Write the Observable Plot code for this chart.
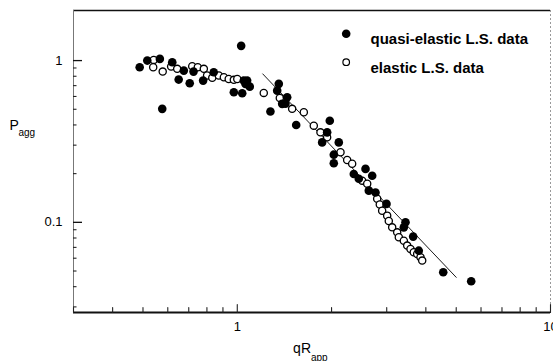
<!DOCTYPE html>
<html>
<head>
<meta charset="utf-8">
<script src="https://cdn.jsdelivr.net/npm/d3@7"></script>
<script src="https://cdn.jsdelivr.net/npm/@observablehq/plot@0.6"></script>
<style>
  body { margin: 0; background: #fff; }
  #chart { width: 553px; height: 361px; overflow: hidden; }
</style>
</head>
<body>
<div id="chart"></div>
<script>
// Quasi-elastic light-scattering data (filled circles)
const quasiQ = [0.488, 0.516, 0.566, 0.576, 0.620, 0.650, 0.675, 0.705, 0.725, 0.778,
  0.841, 0.975, 1.029, 1.037, 1.049, 1.075, 1.096, 1.062, 1.276, 1.357,
  1.341, 1.391, 1.443, 1.542, 1.425, 1.974, 1.936, 1.866, 2.109, 2.033,
  2.033, 2.355, 2.567, 2.443, 2.696, 2.630, 2.763, 2.995, 3.444, 3.402,
  3.644, 3.797, 4.545, 5.582];
const quasiP = [0.909, 1.000, 1.024, 0.503, 0.976, 0.763, 0.867, 0.724, 0.855, 0.752,
  0.847, 0.637, 1.233, 0.628, 0.752, 0.752, 0.690, 0.718, 0.484, 0.718,
  0.652, 0.540, 0.593, 0.400, 0.542, 0.425, 0.360, 0.312, 0.312, 0.262,
  0.232, 0.199, 0.214, 0.186, 0.194, 0.157, 0.153, 0.130, 0.100, 0.0931,
  0.0816, 0.0668, 0.0491, 0.0432];

// Elastic light-scattering data (open circles)
const elasticQ = [0.541, 0.539, 0.578, 0.615, 0.643, 0.718, 0.748, 0.782, 0.801, 0.832,
  0.873, 0.906, 0.939, 0.975, 1.000, 1.215, 1.367, 1.497, 1.631, 1.755,
  1.843, 1.936, 2.136, 2.243, 2.327, 2.505, 2.599, 2.797, 2.851, 2.901,
  3.010, 3.046, 3.123, 3.240, 3.279, 3.402, 3.487, 3.573, 3.660, 3.753,
  3.846, 3.894];
const elasticP = [1.010, 0.909, 0.855, 0.918, 0.889, 0.922, 0.909, 0.889, 0.808, 0.782,
  0.808, 0.788, 0.770, 0.760, 0.770, 0.631, 0.588, 0.503, 0.479, 0.396,
  0.360, 0.336, 0.271, 0.243, 0.230, 0.181, 0.173, 0.140, 0.129, 0.118,
  0.110, 0.102, 0.0931, 0.0867, 0.0808, 0.0770, 0.0718, 0.0685, 0.0653, 0.0638,
  0.0608, 0.0580];

// Fitted curve
const fitQ = [1.206, 5.00];
const fitP = [0.827, 0.0457];

// Axis ticks
const xMajor = [1, 10];
const xMinor = [0.3, 0.4, 0.5, 0.6, 0.7, 0.8, 0.9, 2, 3, 4, 5, 6, 7, 8, 9];
const yMajor = [0.1, 1];
const yMinor = [0.03, 0.04, 0.05, 0.06, 0.07, 0.08, 0.09, 0.2, 0.3, 0.4, 0.5, 0.6, 0.7, 0.8, 0.9];
const xDomain = [0.3, 10];
const yDomain = [0.0277, 2.04];

const legendLabels = ["quasi-elastic L.S. data", "elastic L.S. data"];

const quasi = quasiQ.map((q, i) => ({q, p: quasiP[i]}));
const elastic = elasticQ.map((q, i) => ({q, p: elasticP[i]}));
const fit = fitQ.map((q, i) => ({q, p: fitP[i]}));

const font = "'Liberation Sans', Arial, sans-serif";
const W = 553, H = 361;
const M = {left: 73, right: 3, top: 10, bottom: 49};
const frameW = W - M.left - M.right;

const chart = Plot.plot({
  width: W,
  height: H,
  marginLeft: M.left,
  marginRight: M.right,
  marginTop: M.top,
  marginBottom: M.bottom,
  style: {fontFamily: font, fontSize: "12px", background: "#fff", color: "#000"},
  x: {type: "log", domain: xDomain, axis: null},
  y: {type: "log", domain: yDomain, axis: null},
  marks: [
    // frame: heavy top and bottom, thin left, faint dotted right
    Plot.ruleY([yDomain[1]], {stroke: "#111", strokeWidth: 1.6}),
    Plot.ruleY([yDomain[0]], {stroke: "#111", strokeWidth: 2}),
    Plot.ruleX([xDomain[0]], {stroke: "#777", strokeWidth: 1}),
    Plot.ruleX([xDomain[1]], {stroke: "#999", strokeWidth: 1, strokeDasharray: "2,2"}),
    // inward ticks: upward from the bottom edge (wingless vectors)
    Plot.vector(xMajor, {x: d => d, frameAnchor: "bottom", anchor: "start", rotate: 0, length: 8, r: 0, stroke: "#222", strokeWidth: 1.1}),
    Plot.vector(xMinor, {x: d => d, frameAnchor: "bottom", anchor: "start", rotate: 0, length: 5, r: 0, stroke: "#222", strokeWidth: 1.1}),
    // inward ticks: rightward from the left edge (short rules)
    Plot.ruleY(yMajor, {y: d => d, insetRight: frameW - 9, stroke: "#111", strokeWidth: 1.3}),
    Plot.ruleY(yMinor, {y: d => d, insetRight: frameW - 3.5, stroke: "#222", strokeWidth: 1.1}),
    // tick labels
    Plot.axisX(xMajor, {tickSize: 0, tickPadding: 9, tickFormat: d => String(d), fontSize: 13, fill: "#000", label: null}),
    Plot.axisY(yMajor, {tickSize: 0, tickPadding: 11, tickFormat: d => String(d), fontSize: 13, fill: "#000", label: null}),
    // fitted line
    Plot.line(fit, {x: "q", y: "p", stroke: "#000", strokeWidth: 0.9}),
    // data
    Plot.dot(elastic, {x: "q", y: "p", r: 3.6, fill: "#fff", stroke: "#000", strokeWidth: 1.3}),
    Plot.dot(quasi, {x: "q", y: "p", r: 4.3, fill: "#000", stroke: "none"}),
    // legend
    Plot.dot([legendLabels[0]], {frameAnchor: "top-left", dx: 272.7, dy: 23.3, r: 4.3, fill: "#000"}),
    Plot.dot([legendLabels[1]], {frameAnchor: "top-left", dx: 272.7, dy: 51.7, r: 3.3, fill: "#fff", stroke: "#000", strokeWidth: 1.2}),
    Plot.text([legendLabels[0]], {text: d => d, frameAnchor: "top-left", dx: 297, dy: 23.3, textAnchor: "start", fontSize: 15, fontWeight: "bold", fill: "#000"}),
    Plot.text([legendLabels[1]], {text: d => d, frameAnchor: "top-left", dx: 297, dy: 51.7, textAnchor: "start", fontSize: 15, fontWeight: "bold", fill: "#000"}),
    // axis titles with subscripts
    Plot.text(["P"], {text: d => d, frameAnchor: "left", dx: -64, dy: -36, textAnchor: "start", fontSize: 14, fill: "#000"}),
    Plot.text(["agg"], {text: d => d, frameAnchor: "left", dx: -55, dy: -29, textAnchor: "start", fontSize: 10, fill: "#000"}),
    Plot.text(["qR"], {text: d => d, frameAnchor: "bottom", dx: -1, dy: 40, textAnchor: "end", fontSize: 14, fill: "#000"}),
    Plot.text(["app"], {text: d => d, frameAnchor: "bottom", dx: -1, dy: 48, textAnchor: "start", fontSize: 10, fill: "#000"})
  ]
});
document.getElementById("chart").appendChild(chart);
</script>
</body>
</html>
